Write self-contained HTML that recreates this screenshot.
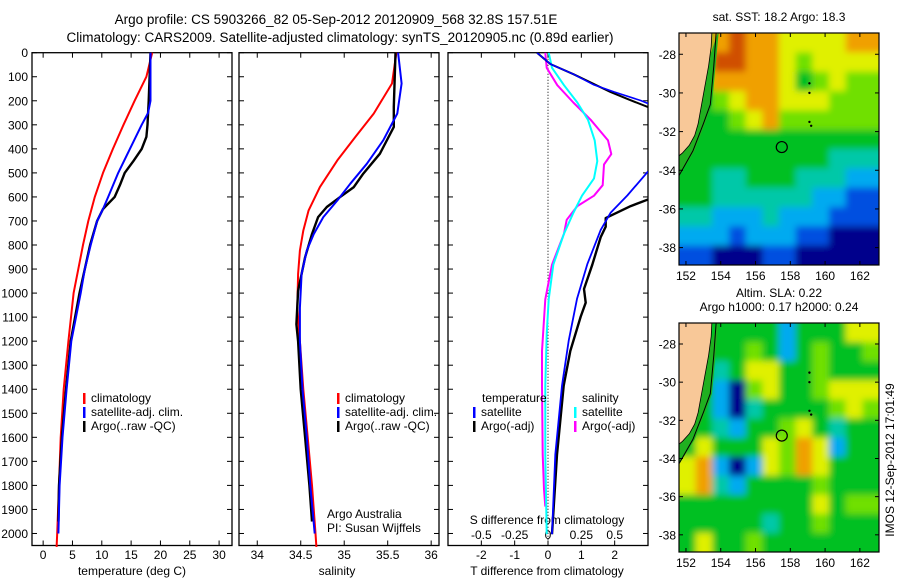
<!DOCTYPE html>
<html><head><meta charset="utf-8">
<style>
html,body{margin:0;padding:0;background:#fff;}
svg{display:block;font-family:"Liberation Sans",sans-serif;}
text{font-size:12px;fill:#000;}
</style></head>
<body>
<svg id="c" width="900" height="580" viewBox="0 0 900 580">
<text x="336" y="24" text-anchor="middle" style="font-size:13.5px">Argo profile: CS 5903266_82 05-Sep-2012 20120909_568 32.8S 157.51E</text>
<text x="340" y="42" text-anchor="middle" style="font-size:13.5px">Climatology: CARS2009. Satellite-adjusted climatology: synTS_20120905.nc (0.89d earlier)</text>
<text transform="translate(894,460) rotate(-90)" text-anchor="middle">IMOS 12-Sep-2012 17:01:49</text>
</svg>
<script>
// ---------- data ----------
const depthTicks=[0,100,200,300,400,500,600,700,800,900,1000,1100,1200,1300,1400,1500,1600,1700,1800,1900,2000];
const tempTicks=[0,5,10,15,20,25,30];
const salTicks=[34,34.5,35,35.5,36];
const tdiffTicks=[-2,-1,0,1,2];
const sdiffTicks=[-0.5,-0.25,0,0.25,0.5];
const sdiffLabels=["-0.5","-0.25","0","0.25","0.5"];

const climDepth=[0,100,200,300,400,500,600,700,800,900,1000,1200,1400,1600,1800,2000,2056];
const climTemp=[18.6,17.6,15.6,13.7,11.9,10.2,8.8,7.7,6.8,6.0,5.2,4.3,3.5,3.0,2.7,2.4,2.3];
const satDepth=[0,100,200,250,300,400,500,600,650,700,800,900,1000,1200,1400,1600,1800,2000];
const satTemp=[18.3,18.3,18.3,17.9,16.8,14.8,12.8,11.1,10.2,9.2,8.1,7.1,6.4,4.8,4.0,3.3,2.8,2.6];
const argoDepth=[0,200,300,350,400,450,500,550,600,650,700,800,1000,1200,1400,1600,1800,1950];
const argoTemp=[18.3,18.0,17.8,17.6,16.8,15.4,13.9,13.1,12.2,10.2,9.2,8.0,6.2,4.7,3.9,3.2,2.7,2.6];

const climSalDepth=[0,128,253,350,448,559,656,740,823,920,1061,1200,1400,1600,1800,2000,2056];
const climSal=[35.60,35.55,35.34,35.13,34.92,34.72,34.59,34.53,34.49,34.47,34.46,34.49,34.53,34.58,34.63,34.67,34.68];
const satSalDepth=[0,128,253,364,462,545,615,684,754,823,920,1061,1200,1400,1600,1800,2000];
const satSal=[35.62,35.66,35.61,35.45,35.26,35.07,34.92,34.76,34.65,34.57,34.51,34.49,34.49,34.52,34.57,34.61,34.66];
const argoSalDepth=[0,225,309,420,503,559,601,642,684,754,851,990,1130,1200,1400,1600,1800,1950];
const argoSal=[35.59,35.57,35.57,35.41,35.22,35.11,34.95,34.80,34.70,34.63,34.55,34.47,34.45,34.47,34.50,34.55,34.60,34.63];

const dDepth=[0,47,90,134,163,199,213];
const dTsat=[-0.33,0.07,0.77,1.38,1.98,2.78,3.03];
const dDepth2=[494,594,665,737,880,1024,1198,1385,1672,2003];
const dTsat2=[3.0,2.38,1.88,1.58,1.18,0.87,0.62,0.42,0.22,0.12];
const dDepthA=[0,47,90,164,193,228];
const dTargo=[-0.33,0.07,0.77,1.88,2.39,3.03];
const dDepthA2=[609,638,688,724,767,882,983,1040,1098,1241,1385,1672,2003];
const dTargo2=[3.03,2.48,1.73,1.73,1.58,1.33,1.08,1.13,0.98,0.67,0.47,0.27,0.12];
const dSDepth=[0,63,135,207,279,365,451,523,595,667,753,882,1026,1170,1385,1672,2003];
const dSsat=[0.005,0.03,0.12,0.22,0.30,0.35,0.37,0.345,0.255,0.19,0.12,0.04,0.005,-0.01,-0.02,-0.02,-0.01];
const dSDepth2=[0,63,135,207,279,365,422,465,551,595,638,695,753,882,1026,1241,1385,1672,1816,1888];
const dSargo=[-0.02,-0.01,0.07,0.19,0.32,0.45,0.475,0.42,0.41,0.345,0.22,0.14,0.12,0.03,-0.02,-0.045,-0.045,-0.04,-0.03,-0.02];

const mapLonTicks=[152,154,156,158,160,162];
const mapLatTicks=[-28,-30,-32,-34,-36,-38];
const sstGrid=[
[4,4,7,8,7,7,6,6,6,6,7,7],
[4,5,8,8,7,7,6,5,6,6,6,6],
[4,5,7,7,7,7,6,4,5,6,5,5],
[4,4,5,6,7,7,6,6,6,5,5,5],
[4,4,4,5,6,7,5,5,5,5,5,5],
[4,4,4,4,4,4,4,4,4,4,4,4],
[4,4,4,4,4,4,4,4,4,3,3,3],
[4,4,3,3,4,4,4,3,3,3,2,2],
[4,4,3,3,3,3,3,3,2,2,1,1],
[3,3,2,2,2,3,2,2,2,1,1,1],
[2,2,2,1,2,2,2,1,1,0,0,0],
[1,1,0,0,0,1,1,0,0,0,0,0]];
const slaGrid=[
[4,4,4,4,4,4,2,4,4,4,6,6],
[4,4,4,4,5,4,2,4,5,4,4,5],
[4,4,3,4,6,6,4,4,5,4,4,4],
[4,4,2,0,5,6,4,4,5,6,6,6],
[4,4,2,0,3,4,4,4,4,5,6,5],
[4,4,3,2,4,4,5,6,4,3,4,4],
[4,6,4,4,4,6,5,7,6,2,4,4],
[6,7,2,0,2,6,5,7,6,4,4,4],
[6,7,3,2,4,4,4,4,5,4,4,4],
[4,4,4,4,4,4,4,4,6,4,5,5],
[4,4,4,4,4,3,4,4,5,4,4,4],
[4,6,4,4,5,4,4,4,4,4,4,4]];
const argoLon=157.51, argoLat=-32.8;

// ---------- drawing ----------
const svg=document.getElementById('c');
const NS='http://www.w3.org/2000/svg';
function mk(tag,attrs,parent){const e=document.createElementNS(NS,tag);for(const k in attrs)e.setAttribute(k,attrs[k]);(parent||svg).appendChild(e);return e;}
const TOP=52.7,BOT=545.5,DMAX=2050;
const yD=d=>TOP+d*(BOT-TOP)/DMAX;
const P1={l:32,r:232}, P2={l:239,r:439}, P3={l:448,r:648};
const xT=t=>P1.l+(t+1.9)*(P1.r-P1.l)/34.1;
const xS=s=>P2.l+(s-33.79)*(P2.r-P2.l)/2.30;
const xdT=t=>P3.l+(t+3)*(P3.r-P3.l)/6;
const xdS=s=>xdT(s*4);

const defs=mk('defs',{});
const cp=mk('clipPath',{id:'p3clip'},defs);
mk('rect',{x:P3.l,y:TOP,width:P3.r-P3.l,height:BOT-TOP},cp);
const flt=mk('filter',{id:'soft',x:'-5%',y:'-5%',width:'110%',height:'110%'},defs);
mk('feGaussianBlur',{stdDeviation:3.5},flt);

function panel(P,name){
  const r=mk('rect',{x:P.l,y:TOP,width:P.r-P.l,height:BOT-TOP,fill:'none',stroke:'#000','stroke-width':1.3});
  
  
  depthTicks.forEach(d=>{
    const y=yD(d);
    const t1=mk('line',{x1:P.l,x2:P.l+5,y1:y,y2:y,stroke:'#000'});
    
    
    const t2=mk('line',{x1:P.r,x2:P.r-5,y1:y,y2:y,stroke:'#000'});
    
    
  });
}
panel(P1,'temperature-panel');panel(P2,'salinity-panel');panel(P3,'difference-panel');
depthTicks.forEach(d=>{
  const t=mk('text',{x:28,y:yD(d)+4.5,'text-anchor':'end'});
  t.textContent=d;
  
  
});
function xticks(vals,labels,fx,y,name){
  vals.forEach((v,i)=>{
    const x=fx(v);
    const a=mk('line',{x1:x,x2:x,y1:BOT,y2:BOT-5,stroke:'#000'});
    
    
    const b=mk('line',{x1:x,x2:x,y1:TOP,y2:TOP+5,stroke:'#000'});
    
    
    const t=mk('text',{x:x,y:y,'text-anchor':'middle'});
    t.textContent=labels[i];
    
    
  });
}
xticks(tempTicks,tempTicks,xT,559,'temperature');
xticks(salTicks,salTicks,xS,559,'salinity');
xticks(tdiffTicks,tdiffTicks,xdT,559,'t-diff');
sdiffTicks.forEach((v,i)=>{
  const t=mk('text',{x:xdS(v),y:539,'text-anchor':'middle'});
  t.textContent=sdiffLabels[i];
  
  
});
function label(x,y,txt,name,anchor){const t=mk('text',{x:x,y:y,'text-anchor':anchor||'middle'});t.textContent=txt;return t;}
label(132,575,'temperature (deg C)','temperature-axis-title');
label(337,575,'salinity','salinity-axis-title');
label(547,575,'T difference from climatology','t-diff-axis-title');
label(547,524,'S difference from climatology','s-diff-axis-title');
label(327,518,'Argo Australia','argo-australia-label','start');
label(327,532,'PI: Susan Wijffels','pi-label','start');

const z=mk('line',{x1:xdT(0),x2:xdT(0),y1:TOP,y2:BOT,stroke:'#000','stroke-dasharray':'1,2'});



function line(ds,vs,fx,color,name,w,clip){
  const pts=ds.map((d,i)=>fx(vs[i]).toFixed(1)+','+yD(d).toFixed(1)).join(' ');
  const a={points:pts,fill:'none',stroke:color,'stroke-width':w||2,'stroke-linejoin':'round'};
  if(clip)a['clip-path']='url(#p3clip)';
  const p=mk('polyline',a);
  
  
}
line(climDepth,climTemp,xT,'#f00','climatology-temperature-line');
line(argoDepth,argoTemp,xT,'#000','argo-temperature-line',2.4);
line(satDepth,satTemp,xT,'#00f','satellite-temperature-line');
line(climSalDepth,climSal,xS,'#f00','climatology-salinity-line');
line(argoSalDepth,argoSal,xS,'#000','argo-salinity-line',2.4);
line(satSalDepth,satSal,xS,'#00f','satellite-salinity-line');
line(dSDepth2,dSargo,xdS,'#f0f','argo-s-diff-line',2,true);
line(dSDepth,dSsat,xdS,'#0ff','satellite-s-diff-line',2,true);
line(dDepthA,dTargo,xdT,'#000','argo-t-diff-line-upper',2,true);
line(dDepthA2,dTargo2,xdT,'#000','argo-t-diff-line-lower',2.4,true);
line(dDepth,dTsat,xdT,'#00f','satellite-t-diff-line-upper',1.6,true);
line(dDepth2,dTsat2,xdT,'#00f','satellite-t-diff-line-lower',1.8,true);

function legend(x,y,color,txt){
  const g=mk('g',{});
  
  
  mk('rect',{x:x,y:y-9,width:2.5,height:11,fill:color},g);
  const t=mk('text',{x:x+8,y:y},g);t.textContent=txt;
}
[['#f00','climatology'],['#00f','satellite-adj. clim.'],['#000','Argo(..raw -QC)']].forEach((e,i)=>{legend(83,402+i*14,e[0],e[1]);legend(337,402+i*14,e[0],e[1]);});
label(482,402,'temperature','legend-temperature-header','start');
label(582,402,'salinity','legend-salinity-header','start');
legend(473,416,'#00f','satellite');legend(473,430,'#000','Argo(-adj)');
legend(574,416,'#0ff','satellite');legend(574,430,'#f0f','Argo(-adj)');

// ---------- maps ----------
const cmap=['#00008c','#0050e0','#00aaf0','#00c8a8','#00c020','#70e000','#e0f000','#f0a000','#d05000'];
let mapId=0;
function map(top,bot,grid,name,title){
  const L=679,R=879,lon0=151.6,lon1=163.1,lat0=-26.9,lat1=-38.9;
  const fx=lon=>L+(lon-lon0)*(R-L)/(lon1-lon0);
  const fy=lat=>top+(lat-lat0)*(bot-top)/(lat1-lat0);
  const g=mk('g',{});
  
  
  const cid='mclip'+(mapId++);
  const mc=mk('clipPath',{id:cid},defs);
  mk('rect',{x:L,y:top,width:R-L,height:bot-top},mc);
  const clipG=mk('g',{'clip-path':'url(#'+cid+')'},g);
  const cells=mk('g',{filter:'url(#soft)'},clipG);
  const nr=grid.length,nc=grid[0].length;
  const cw=(R-L)/nc,ch=(bot-top)/nr;
  grid.forEach((row,i)=>row.forEach((v,j)=>{
    // extend edge cells so blur does not fade at frame
    const x0=L+j*cw-(j===0?10:0), y0=top+i*ch-(i===0?10:0);
    const w=cw+0.5+(j===0?10:0)+(j===nc-1?10:0), h=ch+0.5+(i===0?10:0)+(i===nr-1?10:0);
    const c=mk('rect',{x:x0,y:y0,width:w,height:h,fill:cmap[v]},cells);
    
    
  }));
  const coast=[[151.4,-26.7],[153.5,-26.7],[153.45,-27.6],[153.3,-28.6],[153.1,-29.6],[152.9,-30.6],[152.7,-31.6],[152.5,-32.2],[152.2,-32.7],[151.8,-33.1],[151.4,-33.4]];
  const pts=coast.map(p=>fx(p[0]).toFixed(1)+','+fy(p[1]).toFixed(1)).join(' ');
  const strip=[[153.5,-26.7],[153.9,-26.7],[153.7,-28.6],[153.5,-30.6],[153.1,-31.6],[152.5,-33.0],[151.4,-34.6],[151.4,-33.4]];
  const ls=mk('polygon',{points:pts+' '+strip.slice(1).map(p=>fx(p[0]).toFixed(1)+','+fy(p[1]).toFixed(1)).join(' '),fill:'#20b020'},clipG);
  
  
  const land=mk('polygon',{points:pts,fill:'#f8c898',stroke:'#000','stroke-width':0.8},clipG);
  
  
  const cont=mk('polyline',{points:[[153.75,-26.7],[153.6,-28.6],[153.4,-30.6],[153.0,-31.6],[152.4,-33.0],[151.4,-34.6]].map(p=>fx(p[0]).toFixed(1)+','+fy(p[1]).toFixed(1)).join(' '),fill:'none',stroke:'#000','stroke-width':1},clipG);
  
  
  [[159.1,-29.5],[159.1,-30.0],[159.1,-31.5],[159.2,-31.7]].forEach(p=>{
    const d=mk('circle',{cx:fx(p[0]),cy:fy(p[1]),r:1.2,fill:'#000'},g);
    
    
  });
  const ac=mk('circle',{cx:fx(argoLon),cy:fy(argoLat),r:5.5,fill:'none',stroke:'#000','stroke-width':1.2},g);
  
  
  const fr=mk('rect',{x:L,y:top,width:R-L,height:bot-top,fill:'none',stroke:'#000','stroke-width':1.2},g);
  
  
  mapLonTicks.forEach(lon=>{
    const x=fx(lon);
    mk('line',{x1:x,x2:x,y1:top,y2:top+4,stroke:'#000'},g);
    mk('line',{x1:x,x2:x,y1:bot,y2:bot-4,stroke:'#000'},g);
    const t=mk('text',{x:x,y:bot+15,'text-anchor':'middle'},g);t.textContent=lon;
    
    
  });
  mapLatTicks.forEach(lat=>{
    const y=fy(lat);
    mk('line',{x1:L,x2:L+4,y1:y,y2:y,stroke:'#000'},g);
    mk('line',{x1:R,x2:R-4,y1:y,y2:y,stroke:'#000'},g);
    const t=mk('text',{x:L-3,y:y+4.5,'text-anchor':'end'},g);t.textContent=lat;
    
    
  });
  title.forEach((s,i)=>{
    const t=mk('text',{x:779,y:top-(title.length-i)*14+2,'text-anchor':'middle'},g);t.textContent=s;
    
    
  });
}
map(33,265,sstGrid,'sst-map',['sat. SST: 18.2 Argo: 18.3']);
map(323,552,slaGrid,'sla-map',['Altim. SLA: 0.22','Argo h1000: 0.17 h2000: 0.24']);
</script>
</body></html>
